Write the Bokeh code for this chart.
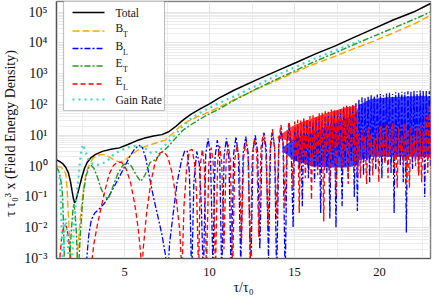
from bokeh.plotting import figure
from bokeh.models import FixedTicker, CustomJSTickFormatter, Label, Arrow, BoxAnnotation, ColumnDataSource
from bokeh.embed import file_html
from bokeh.resources import INLINE

# ---------------- data ----------------
tot_x = [1.0, 1.2, 1.4, 1.55, 1.7, 1.82, 1.92, 2.0, 2.07, 2.15, 2.25, 2.38, 2.5, 2.65, 2.8, 3.0, 3.3, 3.7,
         4.2, 4.7, 5.2, 5.7, 6.2, 6.7, 7.2, 7.6, 8.0, 8.4, 8.9, 9.5, 10.0, 10.55, 11.5, 12.8, 14.0, 15.1,
         16.2, 17.4, 18.5, 19.6, 20.8, 22.0, 23.0]
tot_y = [1.6, 1.4, 1.15, 0.9, 0.6, 0.32, 0.15, 0.085, 0.065, 0.08, 0.13, 0.25, 0.45, 0.85, 1.3, 1.8, 2.4, 3.0,
         3.5, 3.9, 5.0, 6.6, 8.2, 9.4, 10.5, 13, 19, 30, 48, 75, 105, 160, 300, 640, 1250, 2300,
         4300, 8000, 15000, 28000, 55000, 100000, 190000]

bt_x = [1.0, 1.2, 1.4, 1.55, 1.62, 1.68, 1.75, 1.83, 1.9, 2.1, 2.2, 2.3, 2.4, 2.5, 2.6, 2.72, 2.85, 3.0,
        3.15, 3.5, 3.75, 4.1, 4.45, 4.75, 5.05, 5.4, 5.75, 6.2, 6.8, 7.4, 7.8, 8.2, 8.7, 9.3, 9.9, 10.55,
        11.5, 12.8, 14.0, 15.1, 16.2, 17.4, 18.5, 19.6, 20.8, 22.0, 23.0]
bt_y = [1.0, 0.95, 0.8, 0.55, 0.2, 0.04, 0.008, 0.0012, 0.0003, 0.0002, 0.0008, 0.004, 0.02, 0.07, 0.2, 0.5,
        0.9, 1.3, 1.8, 2.3, 2.4, 2.0, 1.5, 1.35, 1.6, 2.3, 3.2, 4.3, 5.5, 7.0, 11, 18, 28, 40, 55, 80,
        150, 320, 620, 1150, 2100, 3700, 6500, 11000, 21000, 40000, 78000]

et_x = [1.0, 1.1, 1.2, 1.3, 1.36, 1.4, 1.44, 1.48, 1.6, 1.75, 1.85, 1.95, 2.02, 2.1, 2.18, 2.25, 2.32, 2.4,
        2.5, 2.6, 2.75, 2.9, 3.05, 3.2, 3.4, 3.6, 3.8, 3.95, 4.1, 4.3, 4.6, 4.9, 5.15, 5.4, 5.7, 5.95,
        6.2, 6.5, 6.8, 7.2, 7.6, 8.0, 8.4, 8.9, 9.5, 10.0, 10.55, 11.5, 12.8, 14.0, 15.1, 16.2, 17.4,
        18.5, 19.6, 20.8, 22.0, 23.0]
et_y = [0.9, 0.75, 0.5, 0.25, 0.1, 0.02, 0.003, 0.0005, 0.0003, 0.0005, 0.005, 0.03, 0.06, 0.03, 0.005,
        0.0005, 0.0008, 0.006, 0.04, 0.15, 0.5, 0.9, 1.05, 0.85, 0.45, 0.2, 0.11, 0.09, 0.1, 0.2, 0.55,
        1.05, 1.3, 1.0, 0.5, 0.32, 0.5, 1.3, 1.6, 2.8, 4.5, 8, 14, 22, 35, 50, 70, 140, 330, 680, 1300,
        2500, 4700, 8800, 16000, 30000, 57000, 100000]

gr_x = [1.0, 1.1, 1.18, 1.25, 1.3, 1.35, 1.38, 1.45, 1.52, 1.6, 1.68, 1.75, 1.85, 1.95, 2.05, 2.15, 2.25,
        2.35, 2.45, 2.55, 2.7, 2.9, 3.1, 3.4, 3.7, 4.0, 4.4, 4.8, 5.2, 5.6, 6.1, 6.6, 7.0, 7.5, 8.0, 8.5,
        9.0, 9.6, 10.55, 11.7, 12.8, 14.0, 15.1, 16.2, 17.4, 18.5, 18.8]
gr_y = [1.0, 0.9, 0.5, 0.1, 0.01, 0.001, 0.0005, 0.005, 0.02, 0.01, 0.002, 0.0005, 0.0003, 0.002, 0.02,
        0.08, 0.25, 0.9, 3.0, 5.0, 3.0, 1.5, 1.2, 1.1, 1.2, 1.5, 2.5, 3.3, 4.0, 4.5, 4.2, 2.6, 3.0, 5.5,
        11, 22, 38, 60, 110, 210, 420, 900, 1700, 3100, 5700, 10000, 12000]

bl_x = [1.0, 2.7, 2.78, 2.9, 3.05, 3.25, 3.5, 3.8, 4.1, 4.4, 4.7, 5.0, 5.3, 5.6, 5.85, 6.05, 6.25, 6.45,
        6.7, 6.95, 7.2, 7.42, 7.53, 7.65, 7.85, 8.1, 8.35, 8.55, 8.7, 8.82, 8.95, 9.08, 9.25, 9.4, 9.52, 9.64,
        9.78, 9.92, 10.06, 10.2, 10.33, 10.46, 10.6, 10.72, 10.86, 11.0, 11.14, 11.28, 11.42, 11.56, 11.7, 11.84,
        11.98, 12.13, 12.28, 12.42, 12.56, 12.69, 12.83, 12.96, 13.09, 13.21, 13.34, 13.47, 13.59, 13.71, 13.83, 13.95,
        14.08, 14.2, 14.33, 14.45, 14.57, 14.68, 14.8,
        14.92, 15.01, 15.1, 15.19, 15.28, 15.37, 15.46, 15.55, 15.64, 15.73, 15.82, 15.91, 16.0, 16.09, 16.18, 16.27,
        16.36, 16.45, 16.54, 16.63, 16.72, 16.81, 16.9, 16.99, 17.08, 17.17, 17.26, 17.35, 17.44, 17.53, 17.62, 17.71,
        17.8, 17.89, 17.98, 18.07, 18.16, 18.25, 18.34, 18.43, 18.52, 18.61, 18.7, 18.79, 18.88, 18.97, 19.06, 19.15,
        19.24, 19.33, 19.42, 19.51, 19.6, 19.69, 19.78, 19.87, 19.96, 20.05, 20.14, 20.23, 20.32, 20.41, 20.5, 20.59,
        20.68, 20.77, 20.86, 20.95, 21.04, 21.13, 21.22, 21.31, 21.4, 21.49, 21.58, 21.67, 21.76, 21.85, 21.94, 22.03,
        22.12, 22.21, 22.3, 22.39, 22.48, 22.57, 22.66, 22.75, 22.84, 22.93, 23.0]
bl_y = [0.0001, 0.0002, 0.001, 0.006, 0.018, 0.03, 0.04, 0.06, 0.11, 0.22, 0.45, 0.95, 2.0, 3.6, 4.7, 4.0, 1.8, 0.5,
        0.1, 0.025, 0.006, 0.0012, 0.0002, 0.003, 0.025, 0.3, 1.5, 3.2, 3.0, 0.6, 0.0002, 0.3, 3.0, 1.2, 0.05, 0.0002,
        2.5, 8, 2.0, 0.0005, 2.0, 7, 1.8, 0.0002, 2.2, 8, 2.0, 0.0002, 2.5, 9, 2.2, 0.0006,
        2.5, 9, 2.5, 0.0002, 3, 10, 3, 0.002, 4, 12, 3.5, 0.001, 4, 12, 4, 0.0002,
        5, 14, 5, 0.0002, 6, 18, 4,
        0.01, 16, 1.5, 20, 0.8, 14, 0.05, 24, 1.2, 22, 0.4, 28, 2, 25, 0.3, 32,
        1, 35, 0.03, 30, 1.5, 40, 0.6, 45, 0.02, 38, 1.2, 55, 0.01, 60, 2, 50,
        0.05, 70, 1, 80, 0.4, 75, 1.5, 95, 0.1, 110, 0.035, 150, 2, 170, 0.5, 160,
        1.5, 190, 0.3, 200, 2.5, 180, 0.8, 210, 3, 220, 0.4, 200, 1.5, 230, 2, 240,
        0.6, 220, 0.03, 250, 2, 240, 1, 260, 0.3, 250, 0.007, 270, 2.5, 260, 0.8, 280,
        3, 270, 0.5, 285, 2, 280, 0.1, 290, 1.5, 270, 1]

el_x = [1.0, 1.12, 1.22, 1.32, 1.45, 1.58, 1.7, 1.8, 1.88, 3.0, 3.08, 3.2, 3.4, 3.6, 3.85, 4.1, 4.35, 4.6,
        4.85, 5.1, 5.35, 5.6, 5.8, 5.95, 6.02, 6.1, 6.3, 6.55, 6.8, 7.05, 7.3, 7.55, 7.8, 8.05, 8.25, 8.38,
        8.5, 8.65, 8.82, 8.98, 9.12, 9.25, 9.36, 9.47, 9.58, 9.7, 9.82, 9.96, 10.1, 10.22, 10.35, 10.48,
        10.6, 10.72, 10.85, 10.98, 11.1, 11.23, 11.36, 11.49, 11.62, 11.75, 11.88, 12.01, 12.14, 12.27, 12.4, 12.52,
        12.65, 12.78, 12.9, 13.03, 13.17, 13.31, 13.45, 13.58, 13.7, 13.83, 13.95, 14.08, 14.2, 14.33, 14.45, 14.57,
        14.68, 14.8,
        14.92, 15.01, 15.1, 15.19, 15.28, 15.37, 15.46, 15.55, 15.64, 15.73, 15.82, 15.91, 16.0, 16.09, 16.18, 16.27,
        16.36, 16.45, 16.54, 16.63, 16.72, 16.81, 16.9, 16.99, 17.08, 17.17, 17.26, 17.35, 17.44, 17.53, 17.62, 17.71,
        17.8, 17.89, 17.98, 18.07, 18.16, 18.25, 18.34, 18.43, 18.52, 18.61, 18.7, 18.79, 18.88, 18.97, 19.06, 19.15,
        19.24, 19.33, 19.42, 19.51, 19.6, 19.69, 19.78, 19.87, 19.96, 20.05, 20.14, 20.23, 20.32, 20.41, 20.5, 20.59,
        20.68, 20.77, 20.86, 20.95, 21.04, 21.13, 21.22, 21.31, 21.4, 21.49, 21.58, 21.67, 21.76, 21.85, 21.94, 22.03,
        22.12, 22.21, 22.3, 22.39, 22.48, 22.57, 22.66, 22.75, 22.84, 22.93, 23.0]
el_y = [0.0001, 0.0003, 0.0015, 0.006, 0.012, 0.011, 0.005, 0.0012, 0.0002, 0.0002, 0.0008, 0.003, 0.012, 0.04, 0.16, 0.55, 1.05, 1.35,
        1.3, 0.8, 0.3, 0.06, 0.01, 0.0015, 0.0003, 0.002, 0.03, 0.3, 1.3, 2.6, 3.0, 2.0, 0.6, 0.08, 0.008, 0.0003,
        0.05, 0.8, 3.2, 3.5, 1.2, 0.1, 0.0003, 1.2, 3.5, 1.0, 0.0003, 1.2, 4, 1.2, 0.0003, 1.5,
        4.5, 1.3, 0.002, 1.6, 5, 1.5, 0.0003, 1.6, 5, 1.6, 0.003, 2, 6, 2, 0.001, 2.5,
        8, 2.5, 0.005, 4, 12, 3, 0.011, 5, 16, 4, 0.02, 7, 22, 6, 0.05, 9,
        28, 8,
        0.2, 28, 2, 32, 0.03, 30, 3, 38, 0.4, 35, 4, 42, 0.08, 45, 2.5, 40,
        0.5, 52, 5, 55, 0.016, 60, 3, 58, 0.3, 68, 4, 72, 0.1, 70, 5, 80,
        0.8, 85, 3, 90, 0.26, 88, 4, 100, 1, 105, 0.5, 12, 0.4, 15, 3, 10,
        0.26, 18, 2, 12, 0.5, 8, 1.5, 15, 0.3, 20, 2, 12, 1.2, 22, 0.4, 14,
        2.5, 25, 0.8, 12, 0.2, 18, 3, 10, 1, 25, 0.3, 15, 0.2, 20, 2, 10,
        1, 18, 0.5, 22, 0.3, 14, 2, 40, 0.6, 100, 2]

# inner envelopes of the densely oscillating region (where the traces overlap into a solid band)
bl_band_x = [14.3, 15.0, 16.0, 17.0, 18.0, 18.6, 18.8, 19.5, 20.5, 21.5, 22.5, 23.0]
bl_band_lo = [3, 1.5, 1.0, 0.9, 0.9, 1.0, 1.5, 2, 2, 2, 2, 2]
bl_band_hi = [4, 8, 12, 20, 35, 50, 100, 150, 170, 180, 190, 180]
el_band_x = [14.0, 15.0, 16.0, 17.0, 18.0, 18.5, 18.6, 18.65]
el_band_lo = [8, 6, 5, 5, 5, 5, 6, 6]
el_band_hi = [9, 22, 35, 55, 80, 90, 90, 7]

labels = ["Total", "B", "B", "E", "E", "Gain Rate"]
subs = ["", "T", "L", "T", "L", ""]

# ---------------- figure ----------------
SERIF = "Liberation Serif, Times New Roman, serif"
p = figure(width=432, height=297, x_range=(1.0, 23.0), y_range=(1e-3, 2.2e5), y_axis_type="log",
           output_backend="svg", toolbar_location=None,
           min_border_left=44, min_border_right=2, min_border_top=1, min_border_bottom=34)
p.background_fill_color = "white"
p.border_fill_color = "white"
p.outline_line_color = "#808080"
p.outline_line_width = 1.5

p.xaxis.ticker = FixedTicker(ticks=[5, 10, 15, 20], minor_ticks=[2.5, 7.5, 12.5, 17.5, 22.5])
p.yaxis.ticker = FixedTicker(ticks=[10.0 ** e for e in range(-3, 6)],
                             minor_ticks=[m * 10.0 ** e for e in range(-3, 6) for m in range(2, 10)])
p.yaxis.formatter = CustomJSTickFormatter(code="""
const e = Math.round(Math.log10(tick));
const sup = {'-':'\u207b','0':'\u2070','1':'\u00b9','2':'\u00b2','3':'\u00b3','4':'\u2074','5':'\u2075','6':'\u2076','7':'\u2077','8':'\u2078','9':'\u2079'};
return '10' + String(e).split('').map(c => sup[c]).join('');
""")
for ax in (p.xaxis[0], p.yaxis[0]):
    ax.major_label_text_font = SERIF
    ax.major_label_text_color = "#111111"
    ax.axis_label_text_font = SERIF
    ax.axis_label_text_font_size = "14px"
    ax.axis_label_text_font_style = "normal"
    ax.axis_label_text_color = "#111111"
    ax.major_tick_line_color = None
    ax.minor_tick_line_color = None
    ax.axis_line_color = "#555555"
    ax.axis_line_width = 1.2
p.xaxis.major_label_text_font_size = "12.5px"
p.yaxis.major_label_text_font_size = "14px"
p.xaxis.axis_label = "\u03c4/\u03c4\u2080"
p.yaxis.axis_label = "\u03c4 \u03c4\u2080\u00b3  x  (Field Energy Density)"
p.xaxis.major_label_standoff = 3
p.xaxis.axis_label_standoff = 1
p.yaxis.major_label_standoff = 3
p.yaxis.axis_label_standoff = 3

for g in (p.xgrid[0], p.ygrid[0]):
    g.grid_line_color = "#e4e4e4"
    g.grid_line_width = 1
    g.minor_grid_line_color = "#ececec"
    g.minor_grid_line_width = 1

styles = [
    dict(color="black", dash="solid", width=1.5),
    dict(color="#FFA500", dash="7 3", width=1.4),
    dict(color="#0000FF", dash="6 2 2 2", width=1.3),
    dict(color="#229922", dash="6 2 2 2", width=1.4),
    dict(color="#FF0000", dash="5 3", width=1.3),
    dict(color="#33DDCC", dash="2 4", width=2.2),
]

# solid-looking cores of the dense oscillations (underneath the traces)
p.varea(x="x", y1="lo", y2="hi", source=ColumnDataSource(dict(x=bl_band_x, lo=bl_band_lo, hi=bl_band_hi)),
        fill_color="#0000FF", fill_alpha=0.75)
p.varea(x="x", y1="lo", y2="hi", source=ColumnDataSource(dict(x=el_band_x, lo=el_band_lo, hi=el_band_hi)),
        fill_color="#FF0000", fill_alpha=0.75)

series = [(tot_x, tot_y), (bt_x, bt_y), (bl_x, bl_y), (et_x, et_y), (el_x, el_y), (gr_x, gr_y)]
for (xs, ys), st in zip(series, styles):
    src = ColumnDataSource(dict(x=xs, y=ys))
    p.line("x", "y", source=src, line_color=st["color"], line_dash=st["dash"], line_width=st["width"])

# ---------------- legend (screen units, origin at frame bottom-left) ----------------
box = BoxAnnotation(left=7, right=108, top=259, bottom=148, left_units="screen", right_units="screen",
                    top_units="screen", bottom_units="screen", fill_color="white", fill_alpha=1.0,
                    line_color="#333333", line_width=1.2)
p.add_layout(box)
entry_y = [246, 227.5, 210, 192.5, 174.5, 159]
for lab, sub, yy, st in zip(labels, subs, entry_y, styles):
    p.add_layout(Arrow(end=None, x_start=16, y_start=yy, x_end=48, y_end=yy, start_units="screen",
                       end_units="screen", line_color=st["color"], line_dash=st["dash"], line_width=st["width"]))
    if sub:
        p.add_layout(Label(x=59, y=yy + 3, x_units="screen", y_units="screen", text=lab,
                           text_font=SERIF, text_font_size="11.5px", text_baseline="middle", text_color="#111111"))
        p.add_layout(Label(x=66.5, y=yy - 3.5, x_units="screen", y_units="screen", text=sub,
                           text_font=SERIF, text_font_size="8px", text_baseline="middle", text_color="#111111"))
    else:
        p.add_layout(Label(x=59, y=yy, x_units="screen", y_units="screen", text=lab,
                           text_font=SERIF, text_font_size="11.5px", text_baseline="middle", text_color="#111111"))

open("out.html", "w").write(file_html(p, INLINE))
